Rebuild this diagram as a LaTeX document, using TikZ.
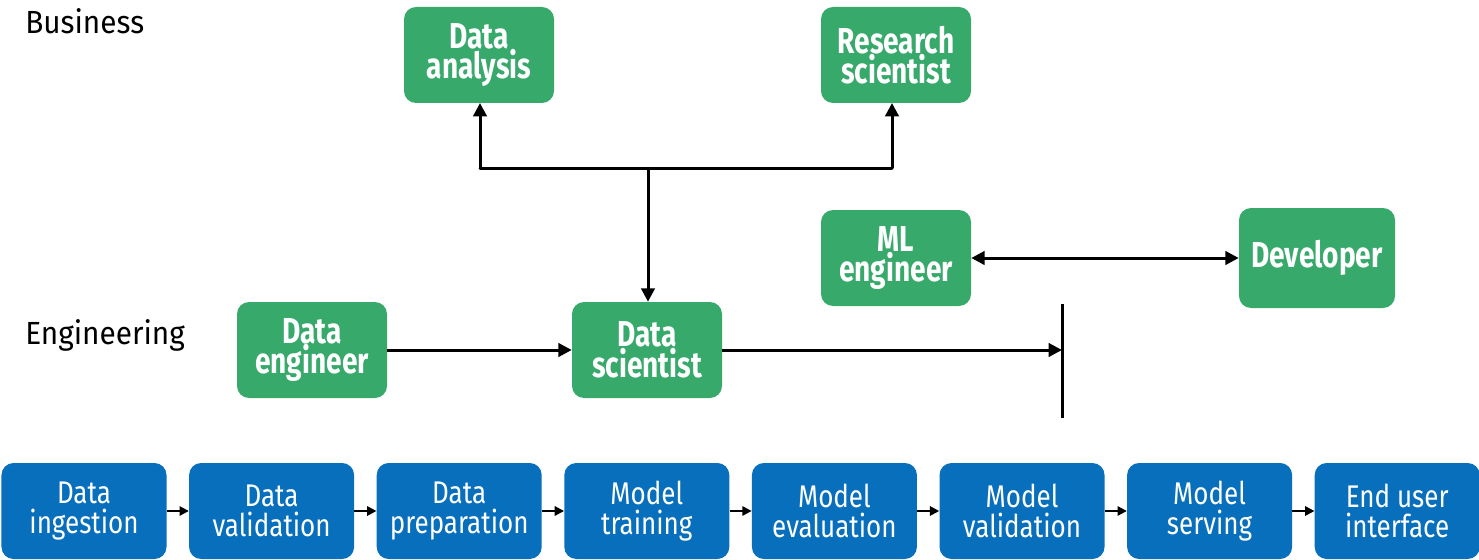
\documentclass[tikz,border=0pt]{standalone}
\usepackage{fontspec}
\setmainfont{Fira Sans}
\newfontfamily\condfont[FakeStretch=0.78]{Fira Sans}
\newfontfamily\bluefont[FakeStretch=0.83]{Fira Sans}
\newfontfamily\labfont[FakeStretch=0.93]{Fira Sans}
\usetikzlibrary{arrows.meta}
\definecolor{rgreen}{RGB}{54,169,107}
\definecolor{rblue}{RGB}{8,111,188}
\begin{document}
\begin{tikzpicture}[x=0.75pt,y=-0.75pt,
  rolebox/.style={draw=none,fill=rgreen,rounded corners=9pt,minimum width=112.5pt,minimum height=72pt,
    text=white,align=center,inner sep=0pt,font=\condfont\bfseries\fontsize{27}{23}\selectfont},
  stagebox/.style={draw=none,fill=rblue,rounded corners=9pt,minimum width=123.75pt,minimum height=72pt,
    text=white,align=center,inner sep=0pt,font=\bluefont\fontsize{23.5}{22}\selectfont},
  lab/.style={anchor=west,inner sep=0pt,font=\labfont\fontsize{24}{24}\selectfont},
  conn/.style={line width=2.25pt,-{Triangle[length=10pt,width=10pt]}},
  bconn/.style={line width=2.25pt,{Triangle[length=10pt,width=10pt]}-{Triangle[length=10pt,width=10pt]}},
  sconn/.style={line width=1.5pt,-{Triangle[length=7pt,width=7pt]}}]
\useasboundingbox (0,0) rectangle (1479,560);
% labels
\node[lab] (business) at (25,21) {Business};
\node[lab] (engineering) at (25,335) {Engineering};
% role boxes
\node[rolebox] (da) at (479,55) {Data\\analysis};
\node[rolebox] (rs) at (896,55) {Research\\scientist};
\node[rolebox] (ml) at (896,258) {ML\\engineer};
\node[rolebox,minimum width=117pt,minimum height=75pt] (dev) at (1317,258) {Developer};
\node[rolebox] (de) at (312,350) {Data\\engineer};
\node[rolebox] (ds) at (647,350) {Data\\scientist};
% connectors
\coordinate (j) at (648,168);
\draw[line width=2.25pt,line cap=round] (480,168) -- (892,168);
\draw[conn] (j) -- (j |- ds.north);
\draw[conn] (480,168) -- (480,103);
\draw[conn] (892,168) -- (892,103);
\draw[bconn] (ml.east) -- (dev.west);
\coordinate (bt) at (1062,304);
\coordinate (bb) at (1062,418);
\draw[line width=2.25pt] (bt) -- (bb);
\draw[conn] (de.east) -- (ds.west);
\draw[conn] (ds.east) -- (ds.east -| bt);
% stage boxes
\foreach \i/\t/\nm in {0/{Data\\ingestion}/s0,1/{Data\\validation}/s1,2/{Data\\preparation}/s2,
  3/{Model\\training}/s3,4/{Model\\evaluation}/s4,5/{Model\\validation}/s5,
  6/{Model\\serving}/s6,7/{End user\\interface}/s7}{
  \node[stagebox] (\nm) at ({84+187.6*\i},511) {\t};
}
\foreach \a/\b in {s0/s1,s1/s2,s2/s3,s3/s4,s4/s5,s5/s6,s6/s7}{
  \draw[sconn] (\a.east) -- (\b.west);
}
\end{tikzpicture}
\end{document}
